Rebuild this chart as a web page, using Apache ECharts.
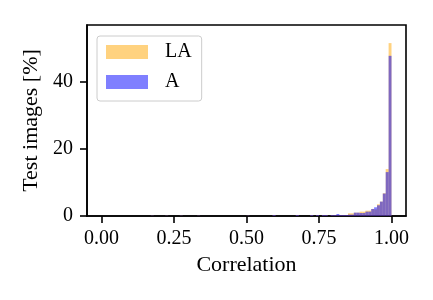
<!DOCTYPE html>
<html>
<head>
<meta charset="utf-8">
<script src="https://cdn.jsdelivr.net/npm/echarts@6/dist/echarts.min.js"></script>
<style>html,body{margin:0;padding:0;background:#fff}#c{width:433px;height:300px}</style>
</head>
<body>
<div id="c"></div>
<script>
// Histogram bins (left edges), bin width 0.01
const binLeft  = [0.17,0.22,0.27,0.33,0.50,0.59,0.67,0.72,0.74,0.76,0.77,0.79,0.80,0.81,0.82,0.83,0.84,0.85,0.86,0.87,0.88,0.89,0.90,0.91,0.92,0.93,0.94,0.95,0.96,0.97,0.98,0.99];
const laValues = [0.1, 0.1, 0.1, 0.1, 0.1, 0.3, 0.3, 0.3, 0.3, 0.3, 0.3, 0.3, 0.3, 0.3, 0.3, 0.3, 0.3, 0.8, 0.8, 1.0, 1.0, 1.3, 1.3, 1.6, 1.6, 2.1, 2.0, 3.5, 4.3, 6.8, 14.0, 51.6];
const aValues  = [0.1, 0.1, 0.1, 0.1, 0.1, 0.3, 0.3, 0.3, 0.3, 0.3, 0.3, 0.3, 0.3, 0.6, 0.3, 0.3, 0.3, 0.4, 0.4, 1.0, 1.0, 0.9, 0.9, 1.3, 1.3, 2.1, 2.6, 3.2, 4.3, 6.7, 13.1, 47.8];
const binWidth = 0.01;
const xTicks = [0, 0.25, 0.5, 0.75, 1.0];
const yTicks = [0, 20, 40];
const seriesNames = ['LA', 'A'];

const FONT = 'Liberation Serif';
const chart = echarts.init(document.getElementById('c'), null, {renderer: 'canvas'});

function mk(name, vals, color) {
  return {
    name: name,
    type: 'custom',
    clip: true,
    itemStyle: {color: color},
    renderItem: function (params, api) {
      const x0 = api.value(0), v = api.value(1);
      const p0 = api.coord([x0, v]);
      const p1 = api.coord([x0 + binWidth, 0]);
      return {
        type: 'rect',
        shape: {x: p0[0], y: p0[1], width: p1[0] - p0[0], height: p1[1] - p0[1]},
        style: {fill: color}
      };
    },
    data: binLeft.map((b, i) => [b, vals[i]])
  };
}

chart.setOption({
  animation: false,
  textStyle: {fontFamily: FONT},
  grid: {left: 87, right: 27, top: 25, bottom: 84, show: true, borderColor: '#000', borderWidth: 1.6, backgroundColor: 'transparent'},
  legend: {
    left: 97, top: 36, orient: 'vertical',
    data: seriesNames.map(n => ({name: n, icon: 'rect'})),
    itemWidth: 42, itemHeight: 14, itemGap: 10,
    padding: [6, 10, 9, 9],
    borderColor: '#cccccc', borderWidth: 1, borderRadius: 3,
    backgroundColor: 'rgba(255,255,255,0.8)',
    textStyle: {fontFamily: FONT, fontSize: 20, color: '#000', padding: [0, 0, 0, 12]}
  },
  xAxis: {
    type: 'value', min: -0.05, max: 1.05,
    name: 'Correlation', nameLocation: 'middle', nameGap: 38,
    nameTextStyle: {fontFamily: FONT, fontSize: 22, color: '#000'},
    axisLine: {show: true, onZero: false, lineStyle: {color: '#000', width: 1.6}},
    axisTick: {show: true, length: 7, lineStyle: {color: '#000', width: 1.6}, customValues: xTicks},
    axisLabel: {margin: 13, fontFamily: FONT, fontSize: 20, color: '#000', customValues: xTicks,
      formatter: v => v.toFixed(2)},
    splitLine: {show: false}
  },
  yAxis: {
    type: 'value', min: 0, max: 57,
    name: 'Test images [%]', nameLocation: 'middle', nameGap: 43,
    nameTextStyle: {fontFamily: FONT, fontSize: 22, color: '#000'},
    axisLine: {show: true, onZero: false, lineStyle: {color: '#000', width: 1.6}},
    axisTick: {show: true, length: 7, lineStyle: {color: '#000', width: 1.6}, customValues: yTicks},
    axisLabel: {margin: 14, fontFamily: FONT, fontSize: 20, color: '#000', customValues: yTicks},
    splitLine: {show: false}
  },
  series: [
    mk('LA', laValues, 'rgba(255,165,0,0.5)'),
    mk('A', aValues, 'rgba(0,0,255,0.5)')
  ]
});
</script>
</body>
</html>
